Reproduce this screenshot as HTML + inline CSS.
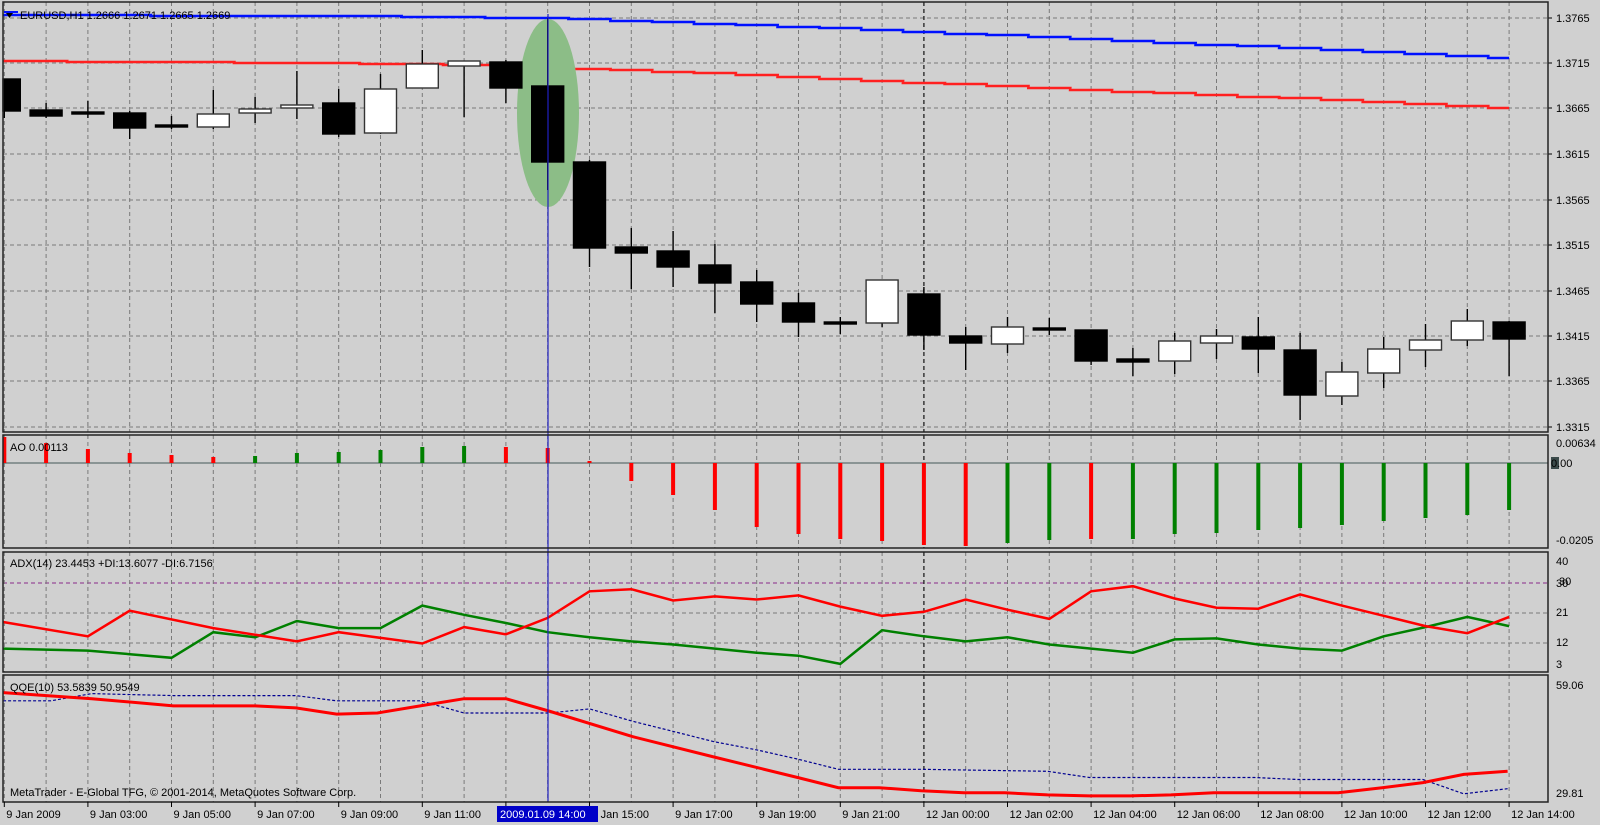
<!DOCTYPE html>
<html><head><meta charset="utf-8"><style>
html,body{margin:0;padding:0;background:#d0d0d0;}
svg{display:block;font-family:"Liberation Sans",sans-serif;font-size:11px;}
</style></head><body>
<svg id="s" width="1600" height="825" xmlns="http://www.w3.org/2000/svg">
<rect width="1600" height="825" fill="#d0d0d0"/>
</svg>
<script>
const S=document.getElementById('s');const NS='http://www.w3.org/2000/svg';
function el(t,a,txt){const e=document.createElementNS(NS,t);for(const k in a)e.setAttribute(k,a[k]);if(txt!==undefined)e.textContent=txt;S.appendChild(e);return e;}
const X=i=>4.3+41.8*i;
const L=3,R=1548;
const panels=[[2,432],[435,548],[552,672],[675,802]];
const grid={stroke:'#7a7a7a','stroke-width':1,'stroke-dasharray':'4,3'};
[18,63,108,154,200,245,291,336,381,427].forEach(y=>el('line',Object.assign({x1:L,x2:R,y1:y,y2:y},grid)));
[613,643].forEach(y=>el('line',Object.assign({x1:L,x2:R,y1:y,y2:y},grid)));
el('line',{x1:L,x2:R,y1:583,y2:583,stroke:'#8a2a8a','stroke-width':1,'stroke-dasharray':'4,3'});
for(let i=0;i<37;i++){panels.forEach(p=>{el('line',{x1:X(i),x2:X(i),y1:p[0],y2:p[1],stroke:i==22?'#202020':'#7a7a7a','stroke-width':i==22?1.3:1,'stroke-dasharray':'4,3'});});}
const pl=[['1.3765',18],['1.3715',63],['1.3665',108],['1.3615',154],['1.3565',200],['1.3515',245],['1.3465',291],['1.3415',336],['1.3365',381],['1.3315',427]];
pl.forEach(p=>{el('line',{x1:R,x2:R+4,y1:p[1],y2:p[1],stroke:'#000'});el('text',{x:1556,y:p[1]+4,fill:'#000'},p[0]);});
function poly(pts,a){el('polyline',Object.assign({points:pts.map(p=>p.join(',')).join(' '),fill:'none'},a));}
function interp(pts,x){for(let k=0;k<pts.length-1;k++){if(x<=pts[k+1][0]){const t=(x-pts[k][0])/(pts[k+1][0]-pts[k][0]);return pts[k][1]+t*(pts[k+1][1]-pts[k][1]);}}return pts[pts.length-1][1];}
function steps(pts){const o=[];for(let i=0;i<=36;i++){const x0=i==0?L:X(i)-21,x1=i==36?X(36):X(i)+21;const y=Math.round(interp(pts,X(i)));o.push([x0,y]);o.push([x1,y]);}return o;}
const blue=[[3,15],[340,16],[548,18],[760,25],[1020,36],[1270,47],[1509,58]];
const red=[[3,61],[300,63],[506,65],[548,67],[760,75],[1020,87],[1270,97],[1509,108]];
poly(steps(red),{stroke:'#ff2020','stroke-width':2.5});
poly(steps(blue),{stroke:'#0010ff','stroke-width':2.5});
el('ellipse',{cx:548,cy:113,rx:31,ry:94,fill:'#8cbd87'});
const C=[['b',79,111,79,118],['b',110,116,103,118],['b',112,114,101,118],['b',113,128,111,139],['b',125,127,116,129],['w',114,127,90,129],['w',109,113,97,123],['w',105,108,71,119],['b',103,134,89,137],['w',89,133,74,134],['w',64,88,50,88],['w',61,66,61,117],['b',62,88,60,103],
['b',86,162,18,190],['b',162,248,160,267],['b',247,253,228,289],['b',251,267,231,287],['b',265,283,244,313],['b',282,304,270,322],['b',303,322,293,337],['b',322,324,317,334],['w',280,323,280,327],['b',294,335,287,350],['b',336,343,327,370],
['w',327,344,317,353],['b',328,330,318,335],['b',330,361,330,365],['b',359,362,348,376],['w',341,361,333,374],['w',336,343,329,359],['b',337,349,317,373],['b',350,395,333,420],['w',372,396,362,405],['w',349,373,337,388],['w',340,350,324,367],['w',321,340,309,346],['b',322,339,321,376]];
C.forEach((c,i)=>{const x=X(i);el('line',{x1:x,x2:x,y1:c[3],y2:c[4],stroke:'#000','stroke-width':1.4});
 let x0=x-16,w=32;if(x0<L){w-=L-x0;x0=L;}
 el('rect',{x:x0,y:c[1],width:w,height:Math.max(c[2]-c[1],2),fill:c[0]=='b'?'#000':'#fff',stroke:c[0]=='b'?'#000':'#333','stroke-width':1.4});});
el('text',{x:20,y:19,fill:'#000'},'EURUSD,H1  1.2666 1.2671 1.2665 1.2669');
el('polygon',{points:'6,13 13,13 9.5,18',fill:'#000'});
el('line',{x1:4,x2:18,y1:12,y2:12,stroke:'#0010ff','stroke-width':2});
// AO
el('line',{x1:L,x2:R,y1:463,y2:463,stroke:'#5f7070','stroke-width':1.3});
const ao=[[437,'r'],[443,'r'],[449,'r'],[453,'r'],[455,'r'],[457,'r'],[456,'g'],[453,'g'],[452,'g'],[450,'g'],[447,'g'],[446,'g'],[447,'r'],[448,'r'],[461,'r'],[481,'r'],[495,'r'],[510,'r'],[527,'r'],[534,'r'],[539,'r'],[541,'r'],[545,'r'],[546,'r'],[543,'g'],[540,'g'],[539,'r'],[539,'g'],[534,'g'],[533,'g'],[530,'g'],[528,'g'],[525,'g'],[521,'g'],[518,'g'],[515,'g'],[510,'g']];
ao.forEach((a,i)=>{const x=X(i);const y0=Math.min(a[0],463),h=Math.abs(a[0]-463);let x0=x-2,w=4;if(x0<L){w-=L-x0;x0=L;}el('rect',{x:x0,y:y0,width:w,height:Math.max(h,1),fill:a[1]=='r'?'#ff0000':'#008000'});});
el('text',{x:10,y:451,fill:'#000'},'AO 0.00113');
el('text',{x:1556,y:447,fill:'#000'},'0.00634');
el('rect',{x:1551,y:457,width:8,height:12,fill:'#3a4a4a'});
el('text',{x:1551,y:467,fill:'#000'},'0.00');
el('text',{x:1556,y:544,fill:'#000'},'-0.0205');
// ADX
const k=1.023;
const adR=[[0,608],[2,622],[3,597],[5,614],[7,627],[8,618],[10,629],[11,613],[12,620],[13,604],[14,578],[15,576],[16,587],[17,583],[18,586],[19,582],[20,593],[21,602],[22,598],[23,586],[24,596],[25,605],[26,578],[27,573],[28,585],[29,594],[30,595],[31,581],[32,592],[33,602],[34,612],[35,619],[36,603]];
const adG=[[0,634],[2,636],[4,643],[5,618],[6,623],[7,607],[8,614],[9,614],[10,592],[11,601],[12,609],[13,618],[14,623],[15,627],[16,630],[17,634],[18,638],[19,641],[20,649],[21,616],[22,622],[23,627],[24,623],[25,630],[26,634],[27,638],[28,625],[29,624],[30,630],[31,634],[32,636],[33,622],[34,613],[35,603],[36,612]];
const mp=a=>a.map(p=>[p[0]==0?L:X(p[0]),(p[1]*k).toFixed(1)]);
poly(mp(adG),{stroke:'#008000','stroke-width':2.5});
poly(mp(adR),{stroke:'#ff0000','stroke-width':2.5});
el('text',{x:10,y:567,fill:'#000'},'ADX(14) 23.4453 +DI:13.6077 -DI:6.7156');
[['40',565],['30',587],['21',616],['12',646],['3',668]].forEach(p=>el('text',{x:1556,y:p[1],fill:'#000'},p[0]));
el('text',{x:1559,y:585,fill:'#000'},'30');
// QQE
const qR=[[3,677],[90,683],[170,690],[250,690],[290,692],[330,698],[370,697],[412,690],[455,683],[496,683],[538,695],[620,720],[700,740],[782,760],[822,770],[862,770],[903,773],[945,775],[985,775],[1027,777],[1068,778],[1108,778],[1148,777],[1190,775],[1230,775],[1272,775],[1312,775],[1355,770],[1395,765],[1435,757],[1478,754]];
const qB=[[3,685],[50,685],[90,678],[170,680],[290,680],[330,685],[412,685],[455,697],[538,697],[578,693],[620,705],[660,715],[700,725],[742,733],[782,742],[822,752],[903,752],[1027,754],[1068,760],[1148,760],[1230,760],[1272,762],[1395,762],[1435,776],[1478,771]];
const mq=a=>a.map(p=>[Math.max(L,p[0]*1.02).toFixed(1),(p[1]*k).toFixed(1)]);
poly(mq(qB),{stroke:'#000090','stroke-width':1.2,'stroke-dasharray':'3,2'});
poly(mq(qR),{stroke:'#ff0000','stroke-width':3});
el('text',{x:10,y:691,fill:'#000'},'QQE(10) 53.5839 50.9549');
el('text',{x:10,y:796,fill:'#000'},'MetaTrader - E-Global TFG, © 2001-2014, MetaQuotes Software Corp.');
el('text',{x:1556,y:689,fill:'#000'},'59.06');
el('text',{x:1556,y:797,fill:'#000'},'29.81');
el('line',{x1:548,x2:548,y1:14,y2:802,stroke:'#2020c0','stroke-width':1.2});
panels.forEach(p=>el('rect',{x:L,y:p[0],width:R-L,height:p[1]-p[0],fill:'none',stroke:'#222','stroke-width':1.5}));
const tl={0:'9 Jan 2009',2:'9 Jan 03:00',4:'9 Jan 05:00',6:'9 Jan 07:00',8:'9 Jan 09:00',10:'9 Jan 11:00',12:'9 Jan 13:00',14:'9 Jan 15:00',16:'9 Jan 17:00',18:'9 Jan 19:00',20:'9 Jan 21:00',22:'12 Jan 00:00',24:'12 Jan 02:00',26:'12 Jan 04:00',28:'12 Jan 06:00',30:'12 Jan 08:00',32:'12 Jan 10:00',34:'12 Jan 12:00',36:'12 Jan 14:00'};
for(const i in tl){const x=X(+i);el('line',{x1:x,x2:x,y1:802,y2:807,stroke:'#000'});el('text',{x:x+2,y:818,fill:'#000'},tl[i]);}
el('rect',{x:497,y:806,width:101,height:16,fill:'#0000c8'});
el('text',{x:500,y:818,fill:'#fff'},'2009.01.09 14:00');
</script>
</body></html>
